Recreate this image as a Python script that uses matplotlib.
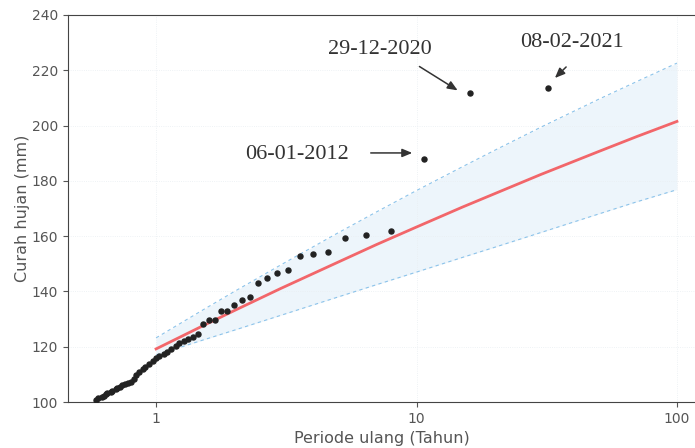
import matplotlib
matplotlib.use("Agg")
import matplotlib.pyplot as plt

# Observed points: return period (years) and rainfall (mm)
obs_T = [32.0, 16.0, 10.67, 8.0, 6.4, 5.33, 4.57, 4.0, 3.56, 3.2, 2.91, 2.67, 2.46,
         2.29, 2.13, 2.0, 1.88, 1.78, 1.68, 1.6, 1.52, 1.45, 1.39, 1.33, 1.28, 1.23,
         1.19, 1.14, 1.10, 1.07, 1.03, 1.0, 0.97, 0.94, 0.91, 0.89, 0.86, 0.84, 0.82,
         0.80, 0.78, 0.76, 0.74, 0.73, 0.71, 0.70, 0.68, 0.67, 0.65, 0.64, 0.63, 0.62,
         0.60, 0.59]
obs_P = [213.6, 211.8, 187.9, 161.9, 160.4, 159.3, 154.3, 153.6, 152.8, 147.8, 146.7,
         144.9, 143.1, 138.0, 136.9, 135.1, 132.9, 132.9, 129.7, 129.7, 128.2, 124.6,
         123.5, 122.8, 122.1, 121.3, 120.3, 119.2, 118.1, 117.4, 116.6, 115.9, 114.8,
         113.7, 112.7, 111.9, 110.9, 109.8, 108.3, 107.2, 106.9, 106.5, 106.2, 105.4,
         105.1, 104.7, 104.0, 103.6, 103.3, 102.9, 102.2, 101.8, 101.4, 100.7]

# Fitted distribution and confidence band
fit_T = [1, 1.5, 2, 3, 5, 7, 10, 15, 20, 30, 50, 70, 100]
fit_P = [119.2, 127.4, 133.1, 141.0, 150.6, 156.9, 163.3, 170.5, 175.4, 182.3,
         190.6, 196.0, 201.5]
upper_P = [123.2, 133.1, 140.0, 149.5, 161.2, 168.7, 176.5, 185.1, 191.1, 199.4,
           209.5, 215.9, 222.6]
lower_P = [117.0, 122.3, 126.0, 131.3, 138.0, 142.4, 147.0, 152.3, 156.0, 161.3,
           168.0, 172.4, 176.8]

# Annotations: label, arrow tail, arrow head, text position
ann_labels = ["29-12-2020", "08-02-2021", "06-01-2012"]
ann_tail = [(10.05, 221.9), (38.2, 221.9), (6.51, 190.1)]
ann_head = [(14.69, 212.2), (33.4, 216.5), (9.87, 190.1)]
ann_text = [(7.24, 227.4), (39.5, 229.9), (3.48, 189.4)]

xticks = [1, 10, 100]
yticks = [100, 120, 140, 160, 180, 200, 220, 240]

fig = plt.figure(figsize=(6.95, 4.48), dpi=100)
ax = fig.add_axes([68/695, 46/448, 1 - 68/695, (402-15)/448])

ax.set_xscale("log")
ax.set_xlim(0.459, 117.3)
ax.set_ylim(100, 240)

ax.grid(True, which="both", color="#e9eef2", linewidth=0.6, linestyle=":")

ax.fill_between(fit_T, lower_P, upper_P, color="#dcecf8", alpha=0.5, linewidth=0)
ax.plot(fit_T, upper_P, color="#8cc3ea", linestyle=(0, (3, 3)), linewidth=0.8)
ax.plot(fit_T, lower_P, color="#8cc3ea", linestyle=(0, (3, 3)), linewidth=0.8)
ax.plot(fit_T, fit_P, color="#f2666a", linewidth=2.0)
ax.scatter(obs_T, obs_P, s=13, color="#222222", zorder=5)

for lab, tail, head, tpos in zip(ann_labels, ann_tail, ann_head, ann_text):
    ax.annotate("", xy=head, xytext=tail,
                arrowprops=dict(arrowstyle="-|>,head_length=0.6,head_width=0.25",
                                color="#333333", lw=1.1))
    ax.text(tpos[0], tpos[1], lab, family="Liberation Serif", fontsize=16,
            color="#333333", ha="center", va="center")

ax.set_xticks(xticks)
ax.set_xticklabels([str(t) for t in xticks])
ax.xaxis.set_minor_locator(matplotlib.ticker.NullLocator())
ax.set_yticks(yticks)
ax.tick_params(axis="both", labelsize=10, labelcolor="#555555", color="#555555")

for side in ["left", "bottom", "top"]:
    ax.spines[side].set_color("#444444")
ax.spines["right"].set_visible(False)

ax.set_xlabel("Periode ulang (Tahun)", fontsize=11.5, color="#555555")
ax.set_ylabel("Curah hujan (mm)", fontsize=11.5, color="#555555", labelpad=1)

fig.savefig("out.png", dpi=100)
